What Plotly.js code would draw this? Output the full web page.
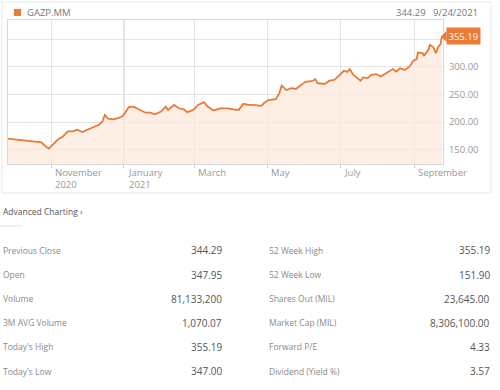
<!DOCTYPE html>
<html>
<head>
<meta charset="utf-8">
<script src="https://cdn.plot.ly/plotly-3.0.1.min.js"></script>
<style>
html,body{margin:0;padding:0;background:#fff;}
#chart{width:500px;height:390px;}
</style>
</head>
<body>
<div id="chart"></div>
<script>
// ---- data ----
const dates = [
 '2020-09-26','2020-10-04','2020-10-10','2020-10-19','2020-10-24','2020-10-27','2020-10-30',
 '2020-11-03','2020-11-07','2020-11-11','2020-11-15','2020-11-19','2020-11-23','2020-11-27',
 '2020-12-01','2020-12-05','2020-12-11','2020-12-14','2020-12-16','2020-12-19','2020-12-23',
 '2020-12-27','2020-12-31','2021-01-02','2021-01-05','2021-01-09','2021-01-13','2021-01-19',
 '2021-01-23','2021-01-27','2021-02-01','2021-02-05','2021-02-07','2021-02-12','2021-02-16',
 '2021-02-20','2021-02-23','2021-02-28','2021-03-04','2021-03-09','2021-03-12','2021-03-17',
 '2021-03-23','2021-03-29','2021-04-03','2021-04-07','2021-04-11','2021-04-15','2021-04-19',
 '2021-04-26','2021-04-28','2021-05-02','2021-05-08','2021-05-11','2021-05-13','2021-05-17',
 '2021-05-21','2021-05-25','2021-05-29','2021-06-02','2021-06-08','2021-06-10','2021-06-12',
 '2021-06-18','2021-06-22','2021-06-26','2021-06-30','2021-07-04','2021-07-07','2021-07-09',
 '2021-07-12','2021-07-16','2021-07-18','2021-07-20','2021-07-24','2021-07-27','2021-07-31',
 '2021-08-04','2021-08-09','2021-08-14','2021-08-17','2021-08-20','2021-08-24','2021-08-28',
 '2021-08-31','2021-09-03','2021-09-04','2021-09-08','2021-09-09','2021-09-13','2021-09-14',
 '2021-09-17','2021-09-19','2021-09-21','2021-09-23','2021-09-24'
];
const closes = [
 170,168,167,165,163,157,151.9,
 160,169,174,183,183,186,182,
 186,189,195,201,213,206,205,
 207,211,217,227,228,223,217,
 217,214,219,228,222,231,225,
 223,218,222,231,236,228,221,
 225,225,223,222,233,231,231,
 229.5,234,240,241.5,252,266,258,
 261.5,260,267,273,274.6,278,270.5,
 269,275,276.5,284,293,291,296,
 285.5,278,275,281,279.6,285.5,287,
 282.5,290,296,291.5,297.6,294.6,300.5,
 311,314,326,325,320,332,340,
 335.6,325,336.7,341.5,355.19
];
const ticker = 'GAZP.MM';
const headerPrice = '344.29';
const headerDate = '9/24/2021';
const yTickVals = [150, 200, 250, 300, 350];
const yTickText = ['150.00', '200.00', '250.00', '300.00', ''];
const xTickVals = ['2020-11-01', '2021-01-01', '2021-03-01', '2021-05-01', '2021-07-01', '2021-09-01'];
const xTickText = ['November<br>2020', 'January<br>2021', 'March', 'May', 'July', 'September'];

const leftLabels = ['Previous Close', 'Open', 'Volume', '3M AVG Volume', "Today's High", "Today's Low"];
const leftValues = ['344.29', '347.95', '81,133,200', '1,070.07', '355.19', '347.00'];
const rightLabels = ['52 Week High', '52 Week Low', 'Shares Out (MIL)', 'Market Cap (MIL)', 'Forward P/E', 'Dividend (Yield %)'];
const rightValues = ['355.19', '151.90', '23,645.00', '8,306,100.00', '4.33', '3.57'];

// ---- layout helpers (pixel -> paper) ----
const W = 500, H = 390;
const PL = 8, PR = 443, PT = 20, PB = 164;
const px = x => (x - PL) / (PR - PL);
const py = y => (PB - y) / (PB - PT);

const ORANGE = '#ea7a34';
const FONT = 'Open Sans, Noto Sans, sans-serif';

const annotations = [];
const shapes = [];

// card border
shapes.push({type:'rect', xref:'paper', yref:'paper', x0:px(2), x1:px(491), y0:py(2), y1:py(193),
  line:{color:'#e6e6e6', width:1}, fillcolor:'rgba(0,0,0,0)', layer:'below'});
// header swatch
shapes.push({type:'rect', xref:'paper', yref:'paper', x0:px(14), x1:px(21), y0:py(9), y1:py(16),
  line:{width:0}, fillcolor:ORANGE});
annotations.push({xref:'paper', yref:'paper', x:px(25), y:py(12.5), xanchor:'left', yanchor:'middle',
  text:ticker, showarrow:false, font:{family:FONT, size:9.5, color:'#777'}});
annotations.push({xref:'paper', yref:'paper', x:px(480), y:py(12.5), xanchor:'right', yanchor:'middle',
  text:headerPrice + '&nbsp;&nbsp;&nbsp;' + headerDate, showarrow:false, font:{family:FONT, size:9.5, color:'#777'}});

// darker year-boundary gridline
shapes.push({type:'line', xref:'x', yref:'paper', x0:xTickVals[1], x1:xTickVals[1], y0:0, y1:1,
  line:{color:'#bdbdbd', width:1}, layer:'below'});

// x tick labels, left-aligned right of their tick
xTickVals.forEach((d, i) => {
  annotations.push({xref:'x', yref:'paper', x:d, y:py(163.5), xanchor:'left', yanchor:'top', xshift:2,
    align:'left', text:xTickText[i], showarrow:false, font:{family:FONT, size:9.5, color:'#999'}});
});

// last value tag
const lastY = closes[closes.length - 1];
annotations.push({xref:'paper', yref:'y', x:px(446), y:lastY, xanchor:'left', yanchor:'middle',
  text:lastY.toFixed(2), showarrow:false, bgcolor:ORANGE, borderpad:1.5,
  font:{family:FONT, size:9.5, color:'#fff'}});
shapes.push({type:'path', xref:'paper', yref:'y',
  path:`M ${px(441)} ${lastY} L ${px(446.5)} ${lastY + 10} L ${px(446.5)} ${lastY - 10} Z`,
  line:{width:0}, fillcolor:ORANGE});

// Advanced Charting link
annotations.push({xref:'paper', yref:'paper', x:px(1), y:py(211), xanchor:'left', yanchor:'middle',
  text:'Advanced Charting ›', showarrow:false, font:{family:FONT, size:8.5, color:'#555'}});
shapes.push({type:'line', xref:'paper', yref:'paper', x0:px(0), x1:px(22), y0:py(226), y1:py(226),
  line:{color:'#e3e3e3', width:1}});

// stats table
const rowY = [250, 274.5, 298.5, 322.5, 346.5, 371];
rowY.forEach((y, i) => {
  annotations.push({xref:'paper', yref:'paper', x:px(1), y:py(y), xanchor:'left', yanchor:'middle',
    text:leftLabels[i], showarrow:false, font:{family:FONT, size:8.5, color:'#8a8a8a'}});
  annotations.push({xref:'paper', yref:'paper', x:px(224), y:py(y), xanchor:'right', yanchor:'middle',
    text:leftValues[i], showarrow:false, font:{family:FONT, size:10, color:'#555'}});
  annotations.push({xref:'paper', yref:'paper', x:px(267), y:py(y), xanchor:'left', yanchor:'middle',
    text:rightLabels[i], showarrow:false, font:{family:FONT, size:8.5, color:'#8a8a8a'}});
  annotations.push({xref:'paper', yref:'paper', x:px(492), y:py(y), xanchor:'right', yanchor:'middle',
    text:rightValues[i], showarrow:false, font:{family:FONT, size:10, color:'#555'}});
});

const trace = {
  x: dates, y: closes, type:'scatter', mode:'lines',
  line:{color:ORANGE, width:1.8},
  fill:'tozeroy', fillcolor:'rgba(252,234,220,0.75)',
  hoverinfo:'skip'
};

const layout = {
  width:W, height:H,
  margin:{l:PL, r:W-PR, t:PT, b:H-PB, pad:0},
  paper_bgcolor:'#fff', plot_bgcolor:'#fff',
  showlegend:false,
  xaxis:{
    type:'date', range:['2020-09-26','2021-09-25'],
    tickvals:xTickVals, showticklabels:false,
    ticks:'outside', ticklen:3, tickcolor:'#cfcfcf',
    showgrid:true, gridcolor:'#e4e4e4', gridwidth:1,
    showline:true, mirror:true, linecolor:'#d8d8d8', linewidth:1,
    zeroline:false, fixedrange:true
  },
  yaxis:{
    side:'right', range:[124, 385],
    tickvals:yTickVals, ticktext:yTickText,
    ticks:'', tickfont:{family:FONT, size:9.5, color:'#999'},
    showgrid:true, gridcolor:'#e4e4e4', gridwidth:1,
    showline:true, mirror:true, linecolor:'#d8d8d8', linewidth:1,
    zeroline:false, fixedrange:true, ticklabelstandoff:3
  },
  font:{family:FONT},
  annotations: annotations,
  shapes: shapes
};

Plotly.newPlot('chart', [trace], layout, {displayModeBar:false, staticPlot:true});
</script>
</body>
</html>
